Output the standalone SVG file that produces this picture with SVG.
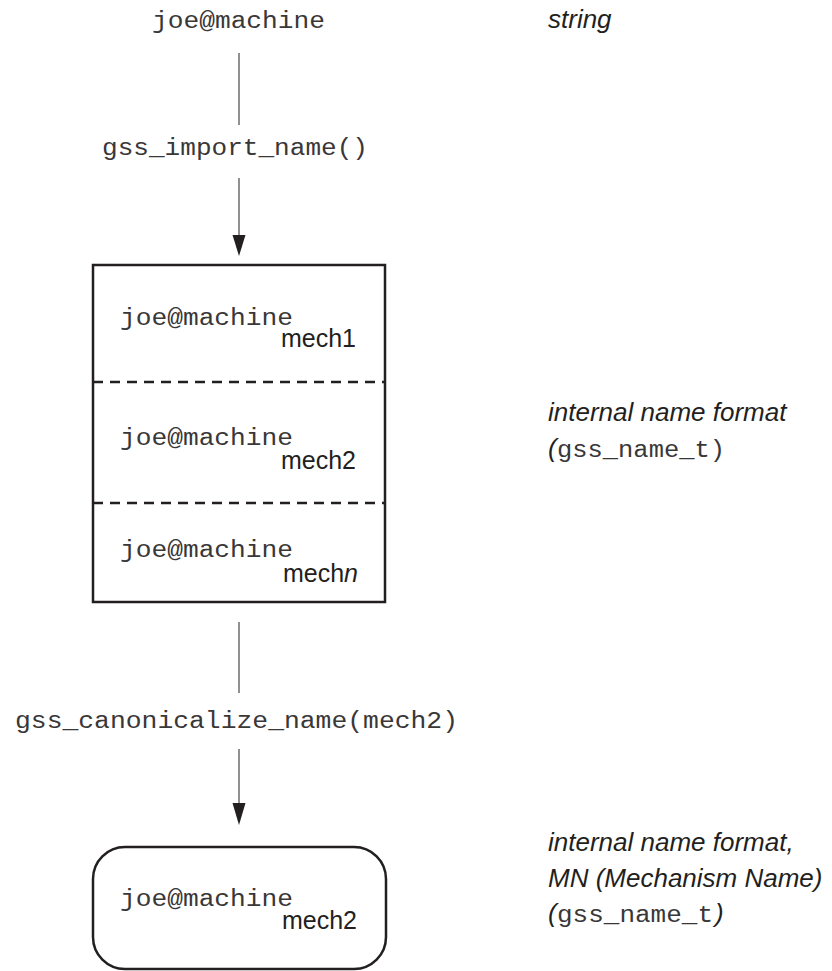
<svg xmlns="http://www.w3.org/2000/svg" width="832" height="971" viewBox="0 0 832 971">
<defs>
<style>
.mono{font-family:"Liberation Mono","DejaVu Sans Mono",monospace;font-size:23px;fill:#3a3738}
.sans{font-family:"Liberation Sans",Arial,sans-serif;font-size:25px;fill:#231f20}
.ital{font-family:"Liberation Sans",Arial,sans-serif;font-size:26px;font-style:italic;fill:#231f20}
.conn{stroke:#555;stroke-width:1.3;fill:none}
.box{stroke:#231f20;stroke-width:2.5;fill:none}
.dash{stroke:#231f20;stroke-width:2.5;stroke-dasharray:10 7;fill:none}
.head{fill:#231f20}
</style>
</defs>
<rect width="832" height="971" fill="#fff"/>
<g id="connectors">
<line class="conn" x1="239" y1="53" x2="239" y2="125"/>
<line class="conn" x1="239" y1="178" x2="239" y2="236"/>
<path class="head" d="M232.5,235 L245.5,235 L239,256 z"/>
<line class="conn" x1="239" y1="622" x2="239" y2="693"/>
<line class="conn" x1="239" y1="749" x2="239" y2="804"/>
<path class="head" d="M232.5,803 L245.5,803 L239,825 z"/>
<text class="mono" x="102" y="155" textLength="266" lengthAdjust="spacingAndGlyphs">gss_import_name()</text>
<text class="mono" x="15" y="728" textLength="443" lengthAdjust="spacingAndGlyphs">gss_canonicalize_name(mech2)</text>
</g>
<g id="source">
<text class="mono" x="152" y="28" textLength="173" lengthAdjust="spacingAndGlyphs">joe@machine</text>
</g>
<g id="internal-name">
<rect class="box" x="93" y="265" width="292" height="337"/>
<line class="dash" x1="93" y1="382" x2="385" y2="382"/>
<line class="dash" x1="93" y1="503" x2="385" y2="503"/>
<text class="mono" x="120" y="325" textLength="173" lengthAdjust="spacingAndGlyphs">joe@machine</text>
<text class="sans" x="356" y="347" text-anchor="end">mech1</text>
<text class="mono" x="120" y="445" textLength="173" lengthAdjust="spacingAndGlyphs">joe@machine</text>
<text class="sans" x="356" y="469" text-anchor="end">mech2</text>
<text class="mono" x="120" y="557" textLength="173" lengthAdjust="spacingAndGlyphs">joe@machine</text>
<text class="sans" x="358" y="582" text-anchor="end">mech<tspan font-style="italic">n</tspan></text>
</g>
<g id="mechanism-name">
<rect class="box" x="93" y="847" width="293" height="122" rx="32" ry="32"/>
<text class="mono" x="120" y="906" textLength="173" lengthAdjust="spacingAndGlyphs">joe@machine</text>
<text class="sans" x="357" y="929" text-anchor="end">mech2</text>
</g>
<g id="labels">
<text class="ital" x="548" y="28">string</text>
<text class="ital" x="548" y="421">internal name format</text>
<text class="ital" x="548" y="457">(</text>
<text class="mono" x="557" y="457" textLength="168" lengthAdjust="spacingAndGlyphs">gss_name_t)</text>
<text class="ital" x="548" y="851">internal name format,</text>
<text class="ital" x="548" y="887">MN (Mechanism Name)</text>
<text class="ital" x="548" y="922">(</text>
<text class="mono" x="557" y="922" textLength="156" lengthAdjust="spacingAndGlyphs">gss_name_t</text>
<text class="ital" x="715" y="922">)</text>
</g>
</svg>
